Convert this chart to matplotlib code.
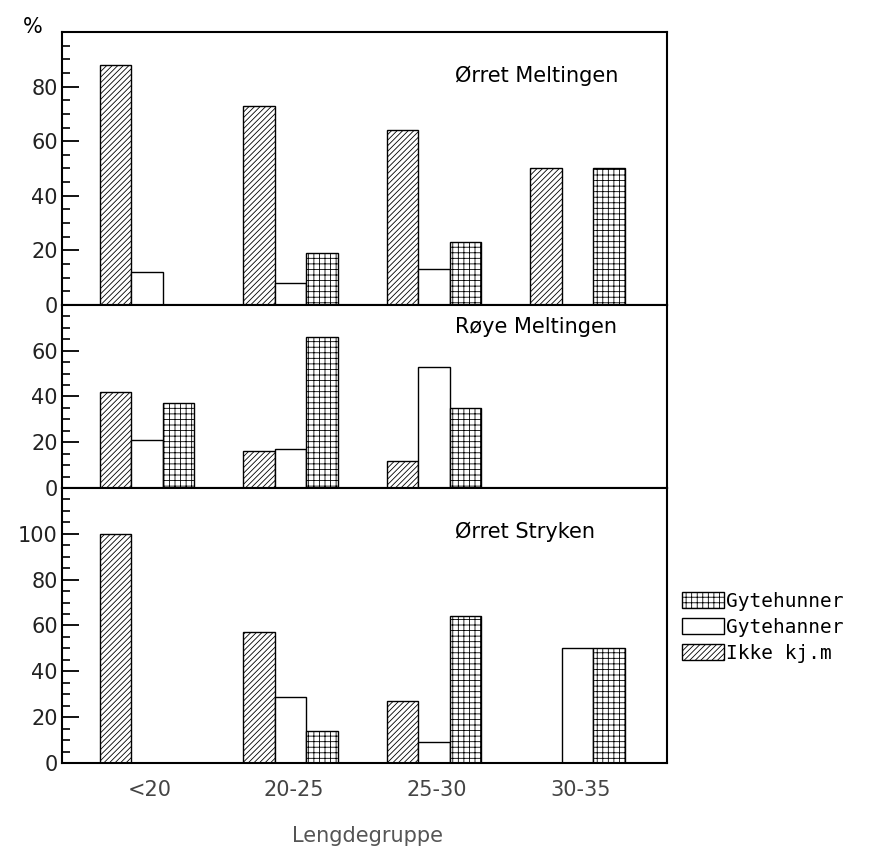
import matplotlib
matplotlib.use("Agg")
import matplotlib.pyplot as plt
from matplotlib.patches import Patch
import numpy as np

plt.rcParams['hatch.linewidth'] = 0.6

groups = ['<20', '20-25', '25-30', '30-35']

# Ørret Meltingen
om_ikke = [88, 73, 64, 50]
om_hanner = [12, 8, 13, 0]
om_hunner = [0, 19, 23, 50]

# Røye Meltingen
rm_ikke = [42, 16, 12, 0]
rm_hanner = [21, 17, 53, 0]
rm_hunner = [37, 66, 35, 0]

# Ørret Stryken
os_ikke = [100, 57, 27, 0]
os_hanner = [0, 29, 9, 50]
os_hunner = [0, 14, 64, 50]

panels = [
    ("Ørret Meltingen", om_ikke, om_hanner, om_hunner, 100, [0, 20, 40, 60, 80]),
    ("Røye Meltingen", rm_ikke, rm_hanner, rm_hunner, 80, [0, 20, 40, 60]),
    ("Ørret Stryken", os_ikke, os_hanner, os_hunner, 120, [0, 20, 40, 60, 80, 100]),
]

# axes rectangles in figure fraction
rects = [
    [0.0709, 0.6412, 0.6914, 0.3212],
    [0.0709, 0.4259, 0.6914, 0.2153],
    [0.0709, 0.1024, 0.6914, 0.3235],
]

HATCH_IKKE = '//////'
HATCH_HUNNER = '+++'

fig = plt.figure(figsize=(8.75, 8.5), dpi=100)
x = np.arange(len(groups))
w = 0.22

axes = []
for (title, ikke, hanner, hunner, ymax, ticks), r in zip(panels, rects):
    ax = fig.add_axes(r)
    b1 = ax.bar(x - w, ikke, w, color='white', edgecolor='black', hatch=HATCH_IKKE, linewidth=1.0)
    b2 = ax.bar(x, hanner, w, color='white', edgecolor='black', linewidth=1.0)
    b3 = ax.bar(x + w, hunner, w, color='white', edgecolor='black', hatch=HATCH_HUNNER, linewidth=1.0)
    # hide zero-height bars
    for bars, vals in ((b1, ikke), (b2, hanner), (b3, hunner)):
        for b, v in zip(bars, vals):
            if v == 0:
                b.set_visible(False)
    ax.set_xlim(-0.592, 3.624)
    ax.set_ylim(0, ymax)
    ax.set_yticks(ticks)
    ax.set_yticks(np.arange(0, ymax + 1, 5), minor=True)
    ax.tick_params(axis='y', which='major', direction='in', length=12, width=1.3,
                   labelsize=15, pad=3, labelcolor='#222222')
    ax.tick_params(axis='y', which='minor', direction='in', length=6, width=1.2)
    ax.tick_params(axis='x', length=0)
    for s in ax.spines.values():
        s.set_linewidth(1.5)
    ax.text(0.65, 0.84 if ymax != 80 else 0.88, title, transform=ax.transAxes,
            fontsize=15, ha='left', va='center')
    axes.append(ax)

for ax in axes[:-1]:
    ax.set_xticks([])
axes[-1].set_xticks(x + 0.02)
axes[-1].set_xticklabels(groups, fontsize=15, color='#444444')
axes[-1].tick_params(axis='x', pad=12)

fig.text(0.038, 0.968, '%', fontsize=15, ha='center', va='center')
fig.text(0.42, 0.017, 'Lengdegruppe', fontsize=15, ha='center', va='center', color='#555555')

handles = [
    Patch(facecolor='white', edgecolor='black', hatch=HATCH_HUNNER),
    Patch(facecolor='white', edgecolor='black'),
    Patch(facecolor='white', edgecolor='black', hatch=HATCH_IKKE),
]
fig.legend(handles, ['Gytehunner', 'Gytehanner', 'Ikke kj.m'],
           loc='center left', bbox_to_anchor=(0.77, 0.262), frameon=False,
           prop={'family': 'DejaVu Sans Mono', 'size': 14},
           handlelength=2.2, handleheight=0.9, handletextpad=0.1, labelspacing=0.35,
           borderaxespad=0.0)

fig.savefig('out.png', dpi=100)
